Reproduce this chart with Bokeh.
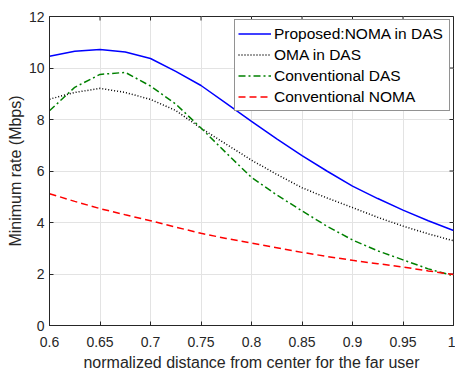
import math
from bokeh.plotting import figure
from bokeh.models import FixedTicker, Range1d, Legend, LegendItem
from bokeh.embed import file_html
from bokeh.resources import INLINE

x = [0.6, 0.625, 0.65, 0.675, 0.7, 0.725, 0.75, 0.775, 0.8, 0.825, 0.85,
     0.875, 0.9, 0.925, 0.95, 0.975, 1.0]
proposed = [10.46, 10.65, 10.72, 10.62, 10.37, 9.87, 9.32, 8.63, 7.93, 7.25,
            6.6, 5.99, 5.41, 4.93, 4.48, 4.07, 3.69]
oma = [8.79, 9.05, 9.21, 9.05, 8.78, 8.35, 7.66, 7.04, 6.42, 5.87, 5.35,
       4.95, 4.58, 4.2, 3.86, 3.56, 3.29]
conv_das = [8.34, 9.25, 9.75, 9.83, 9.3, 8.6, 7.67, 6.7, 5.75, 5.07, 4.45,
            3.85, 3.32, 2.9, 2.55, 2.2, 1.93]
conv_noma = [5.12, 4.82, 4.54, 4.3, 4.07, 3.82, 3.58, 3.38, 3.2, 3.02, 2.84,
             2.68, 2.53, 2.4, 2.27, 2.12, 1.98]

x_ticks = [0.6, 0.65, 0.7, 0.75, 0.8, 0.85, 0.9, 0.95, 1.0]
x_tick_labels = ["0.6", "0.65", "0.7", "0.75", "0.8", "0.85", "0.9", "0.95", "1"]
y_ticks = [0, 2, 4, 6, 8, 10, 12]
series_names = ["Proposed:NOMA in DAS", "OMA in DAS", "Conventional DAS", "Conventional NOMA"]
x_title = "normalized distance from center for the far user"
y_title = "Minimum rate (Mbps)"

FONT = "Liberation Sans"
AX = "#262626"

x0, x1 = x_ticks[0], x_ticks[-1]
y0, y1 = y_ticks[0], y_ticks[-1]

p = figure(width=455, height=373, x_range=Range1d(x0, x1), y_range=Range1d(y0, y1),
           output_backend="svg", toolbar_location=None,
           min_border_left=49, min_border_right=2, min_border_top=16, min_border_bottom=45,
           background_fill_color="white", border_fill_color="white")

p.outline_line_color = AX
p.outline_line_width = 1

for ax in (p.xaxis[0], p.yaxis[0]):
    ax.major_tick_in = 4
    ax.major_tick_out = 0
    ax.minor_tick_in = 0
    ax.minor_tick_out = 0
    ax.axis_line_color = AX
    ax.major_tick_line_color = AX
    ax.major_label_text_font = FONT
    ax.major_label_text_font_size = "14px"
    ax.major_label_text_color = AX
    ax.axis_label_text_font = FONT
    ax.axis_label_text_font_size = "16px"
    ax.axis_label_text_font_style = "normal"
    ax.axis_label_text_color = AX

p.xaxis[0].ticker = FixedTicker(ticks=x_ticks)
p.xaxis[0].major_label_overrides = {t: l for t, l in zip(x_ticks, x_tick_labels)}
p.yaxis[0].ticker = FixedTicker(ticks=y_ticks)
p.xaxis[0].axis_label = x_title
p.yaxis[0].axis_label = y_title
p.xaxis[0].major_label_standoff = 11
p.yaxis[0].major_label_standoff = 5
p.xaxis[0].axis_label_text_line_height = 0.8
p.xaxis[0].axis_label_standoff = 4
p.yaxis[0].axis_label_standoff = 2

# box ticks on top and right (inward)
p.ray(x=[x1] * len(y_ticks), y=y_ticks, length=4, length_units="screen",
      angle=math.pi, line_color=AX, line_width=1)
p.ray(x=x_ticks, y=[y1] * len(x_ticks), length=4, length_units="screen",
      angle=-math.pi / 2, line_color=AX, line_width=1)

p.xgrid.ticker = FixedTicker(ticks=x_ticks)
p.ygrid.ticker = FixedTicker(ticks=y_ticks)
p.grid.grid_line_color = "#e3e3e3"
p.grid.grid_line_width = 1

r1 = p.line(x, proposed, line_color="#0000ff", line_width=1.5)
r2 = p.line(x, oma, line_color="#000000", line_width=1.5, line_dash="1 2")
r3 = p.line(x, conv_das, line_color="#008000", line_width=1.5, line_dash="7 3 2 3")
r4 = p.line(x, conv_noma, line_color="#ff0000", line_width=1.5, line_dash="7 4")

legend = Legend(items=[LegendItem(label=n, renderers=[r]) for n, r in zip(series_names, [r1, r2, r3, r4])],
                location="top_right", margin=3, padding=3, spacing=0,
                glyph_width=33, glyph_height=21, label_height=21, label_width=172,
                label_standoff=3,
                label_text_font=FONT, label_text_font_size="15.5px", label_text_color="#000000",
                border_line_color=AX, border_line_width=1, background_fill_color="white",
                background_fill_alpha=1)
p.add_layout(legend)

open("out.html", "w").write(file_html(p, INLINE))
